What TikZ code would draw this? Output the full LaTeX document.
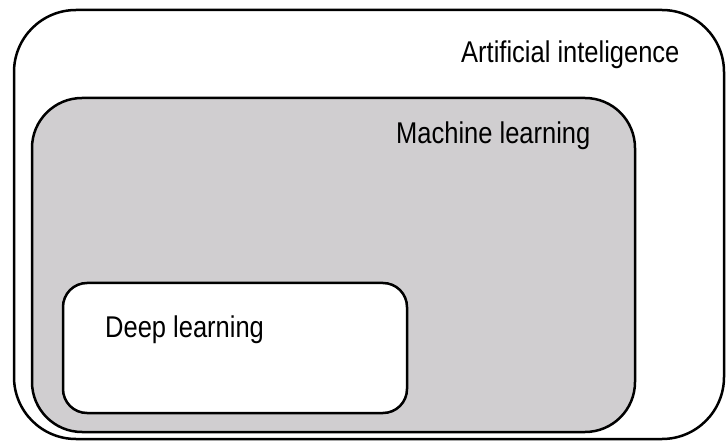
\documentclass[tikz,border=0pt]{standalone}
\usepackage{fontspec}
\setmainfont[FakeStretch=0.85]{Liberation Sans}
\definecolor{mlgray}{RGB}{208,206,208}
\begin{document}
\begin{tikzpicture}[x=1bp,y=-1bp,
  box/.style={draw=black,line width=2.5bp},
  lbl/.style={anchor=base west,inner sep=0pt,font=\fontsize{30bp}{35bp}\selectfont}]
\useasboundingbox (0,0) rectangle (726,441);
\draw[box,rounded corners=62bp] (14,10) rectangle (724,439);
\draw[box,fill=mlgray,rounded corners=50bp] (32,98) rectangle (635,432);
\draw[box,fill=white,rounded corners=24bp] (63,283) rectangle (407,413);
\node[lbl] (ai) at (461,63) {Artificial inteligence};
\node[lbl] (ml) at (396,144) {Machine learning};
\node[lbl] (dl) at (105,338) {Deep learning};
\end{tikzpicture}
\end{document}
